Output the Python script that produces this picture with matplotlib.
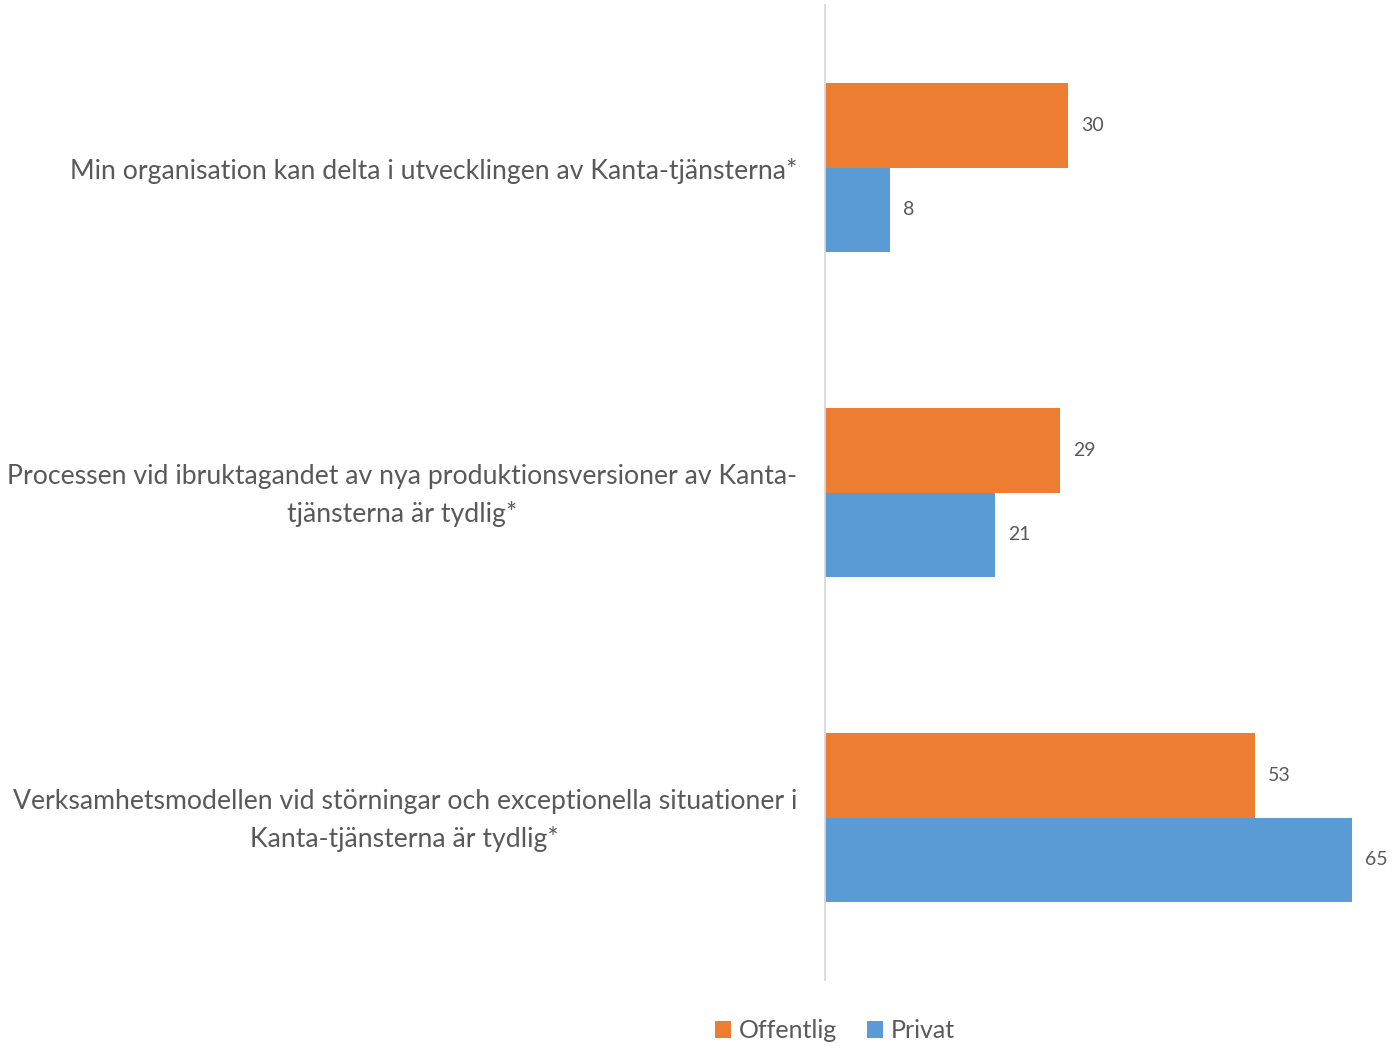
import matplotlib
matplotlib.use("Agg")
import matplotlib.pyplot as plt
import matplotlib.transforms as mtransforms
import numpy as np

categories = [
    "Min organisation kan delta i utvecklingen av Kanta-tjänsterna*",
    "Processen vid ibruktagandet av nya produktionsversioner av Kanta-\ntjänsterna är tydlig*",
    "Verksamhetsmodellen vid störningar och exceptionella situationer i\nKanta-tjänsterna är tydlig*",
]
offentlig = [30, 29, 53]
privat = [8, 21, 65]
series_names = ["Offentlig", "Privat"]
colors = ["#ED7D31", "#5B9BD5"]
text_color = "#595959"

plt.rcParams['font.family'] = ['Lato', 'DejaVu Sans']

fig = plt.figure(figsize=(13.93, 10.48), dpi=100)
ax = fig.add_axes([825/1393, 1-980/1048, 549/1393, 975/1048])

y = np.arange(len(categories))
h = 0.26
b1 = ax.barh(y - h/2, offentlig, height=h, color=colors[0], label=series_names[0])
b2 = ax.barh(y + h/2, privat, height=h, color=colors[1], label=series_names[1])

for bars, vals in ((b1, offentlig), (b2, privat)):
    for bar, v in zip(bars, vals):
        ax.text(bar.get_width() + 1.6, bar.get_y() + bar.get_height()/2, f"{v}",
                va='center', ha='left', fontsize=14, color=text_color)

ax.set_xlim(0, 67.7)
ax.set_ylim(2.5, -0.5)
ax.set_xticks([])
ax.set_yticks([])

label_tr = ax.get_yaxis_transform() + mtransforms.ScaledTranslation(-28/100, -3/100, fig.dpi_scale_trans)
for yi, cat in zip(y, categories):
    ax.text(0, yi, cat, transform=label_tr, ha='right', va='center',
            multialignment='center', fontsize=19.2, color=text_color, linespacing=1.55)

for s in ['top', 'right', 'bottom']:
    ax.spines[s].set_visible(False)
ax.spines['left'].set_color('#D9D9D9')
ax.spines['left'].set_linewidth(1.3)

leg = fig.legend(handles=[b1, b2], labels=series_names, loc='center',
                 bbox_to_anchor=(835/1393, 1-1031/1048), ncol=2, frameon=False,
                 prop={'size': 18},
                 handlelength=0.65, handleheight=0.65, handletextpad=0.3,
                 columnspacing=1.2)
for t in leg.get_texts():
    t.set_color(text_color)

fig.savefig("out.png", dpi=100)
